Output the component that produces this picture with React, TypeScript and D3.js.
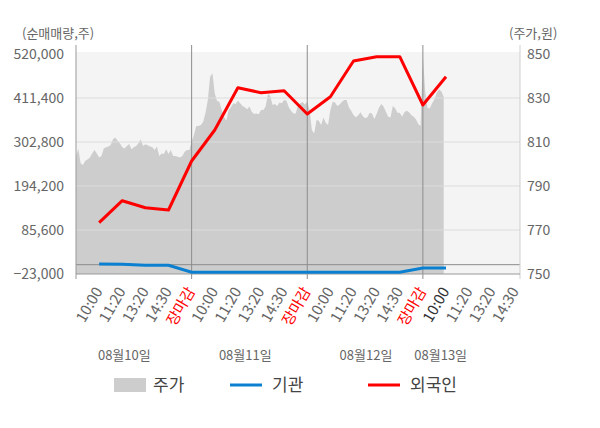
import React from "react";
import * as d3 from "d3";

const W = 600;
const H = 428;

// x tick labels per day (slot positions 1..19)
const dayTimeLabels = ["10:00", "11:20", "13:20", "14:30", "장마감"];
const dayLabels = ["08월10일", "08월11일", "08월12일", "08월13일"];
const dayLabelSlots = [2.09, 7.32, 12.54, 15.77];
const separatorSlots = [5, 10, 15];

const leftTicks = [-23000, 85600, 194200, 302800, 411400, 520000];
const rightTicks = [750, 770, 790, 810, 830, 850];

// 외국인 (foreign net buying, shares) at slots 1..16
const foreignValues = [
  103600, 157900, 140600, 135000, 255900, 332400, 436800, 424500, 429400,
  371900, 414600, 502700, 513300, 513300, 394100, 464000,
];
// 기관 (institution net buying, shares) at slots 1..16
const instValues = [
  1500, 1000, -1300, -1500, -18800, -18800, -18800, -18800, -18800, -18800,
  -18800, -18800, -18800, -18800, -8200, -8200,
];
// 주가 (price, won) sampled every 0.1 slot from slot 0
const priceValues = [
  803.3, 807.1, 800.3, 799.5, 801.5, 802.1, 803.0, 804.8, 806.4, 804.8,
  803.0, 803.6, 807.0, 807.6, 807.9, 808.6, 811.2, 812.1, 810.6, 809.4,
  807.6, 807.1, 808.2, 809.1, 806.7, 807.6, 808.2, 809.4, 811.2, 808.2,
  809.0, 808.5, 807.9, 807.6, 806.4, 807.9, 803.6, 804.8, 804.5, 806.7,
  804.5, 806.4, 803.6, 803.6, 803.3, 803.0, 803.6, 805.6, 806.4, 806.4,
  810.2, 813.2, 817.3, 817.3, 817.7, 819.2, 823.3, 829.1, 839.7, 841.2,
  832.1, 828.6, 828.3, 824.5, 821.5, 819.7, 824.5, 825.8, 827.6, 827.3,
  828.8, 827.6, 826.4, 825.8, 824.9, 826.1, 823.8, 822.7, 823.0, 822.6,
  824.5, 824.5, 826.1, 831.8, 830.9, 826.8, 827.3, 826.4, 828.0, 827.6,
  829.1, 828.8, 825.8, 824.2, 823.0, 823.0, 826.7, 827.6, 828.2, 827.1,
  828.3, 824.5, 815.5, 813.9, 820.0, 819.7, 817.7, 821.1, 818.8, 817.7,
  824.5, 828.3, 827.9, 826.4, 827.1, 828.3, 829.1, 829.1, 825.8, 824.2,
  822.3, 821.2, 822.0, 823.5, 821.8, 820.8, 821.2, 823.3, 823.0, 820.5,
  822.7, 825.6, 827.3, 826.1, 823.8, 821.5, 821.1, 826.4, 825.3, 823.3,
  823.3, 821.5, 823.5, 824.2, 823.5, 822.3, 821.5, 820.3, 818.2, 817.3,
  849.5, 832.9, 825.3, 825.3, 827.6, 829.4, 832.4, 833.9, 832.9, 830.6,
];

const FONT = "'Noto Sans CJK KR', 'Noto Sans', sans-serif";

export default function App() {
  const x0 = 76;
  const x1 = 520;
  const yTop = 54;
  const yBot = 274;
  const x = d3.scaleLinear().domain([0, 19.2]).range([x0, x1]);
  const yL = d3.scaleLinear().domain([-23000, 520000]).range([yBot, yTop]);
  const yR = d3.scaleLinear().domain([750, 850]).range([yBot, yTop]);

  const slots: { slot: number; label: string; color: string }[] = [];
  for (let d = 0; d < 4; d++) {
    dayTimeLabels.forEach((lab, k) => {
      if (d === 3 && k === 4) return;
      const color = k === 4 ? "#ff0000" : d === 3 && k === 0 ? "#333" : "#666";
      slots.push({ slot: d * 5 + k + 1, label: lab, color });
    });
  }

  const area = d3
    .area<number>()
    .x((_, i) => x(i / 10))
    .y0(yBot)
    .y1((v) => yR(v));

  const line = d3
    .line<number>()
    .x((_, i) => x(i + 1))
    .y((v) => yL(v));

  return (
    <svg width={W} height={H} style={{ position: "absolute", left: 0, top: 0 }}>
      <rect x={0} y={0} width={W} height={H} fill="#fff" />
      <rect x={x0} y={52} width={x1 - x0} height={yBot - 52} fill="#f4f4f4" />
      <path d={area(priceValues) || ""} fill="#cdcdcd" />
      {leftTicks.slice(1, -1).map((t) => (
        <line key={t} x1={x0} x2={x1} y1={yL(t)} y2={yL(t)} stroke="#dcdcdc" strokeWidth={1} />
      ))}
      <line x1={x0} x2={x1} y1={yL(0)} y2={yL(0)} stroke="#8c8c8c" strokeWidth={1} />
      {separatorSlots.map((s) => (
        <line key={s} x1={x(s)} x2={x(s)} y1={45} y2={279} stroke="#8c8c8c" strokeWidth={1} />
      ))}
      <line x1={x0} x2={x0} y1={45} y2={279} stroke="#999" strokeWidth={1} />
      <line x1={x1} x2={x1} y1={45} y2={279} stroke="#cfcfcf" strokeWidth={1} />
      <line x1={x0} x2={x1} y1={yBot} y2={yBot} stroke="#999" strokeWidth={1} />

      <path d={line(instValues) || ""} fill="none" stroke="#0b80d0" strokeWidth={3} />
      <path d={line(foreignValues) || ""} fill="none" stroke="#ff0000" strokeWidth={3} strokeLinejoin="round" />

      <g fontFamily={FONT} fontSize={14} fill="#666">
        {leftTicks.map((t) => (
          <text key={t} x={64} y={yL(t)} dy="0.35em" textAnchor="end">
            {d3.format(",")(t)}
          </text>
        ))}
        {rightTicks.map((t) => (
          <text key={t} x={527} y={yR(t)} dy="0.35em" textAnchor="start">
            {t}
          </text>
        ))}
      </g>
      <g fontFamily={FONT} fontSize={13} fill="#666">
        <text x={22} y={33} dy="0.35em">(순매매량,주)</text>
        <text x={509} y={33} dy="0.35em">(주가,원)</text>
        {dayLabels.map((d, i) => (
          <text key={d} x={x(dayLabelSlots[i])} y={355} dy="0.35em" textAnchor="middle">
            {d}
          </text>
        ))}
      </g>
      <g fontFamily={FONT} fontSize={15}>
        {slots.map((s) => (
          <text
            key={s.slot}
            transform={`translate(${x(s.slot) + 4},${291}) rotate(-60)`}
            textAnchor="end"
            fill={s.color}
          >
            {s.label}
          </text>
        ))}
      </g>

      <g fontFamily={FONT} fontSize={17} fill="#444">
        <rect x={114} y={378} width={32} height={14} fill="#cdcdcd" />
        <text x={153} y={385} dy="0.35em">주가</text>
        <line x1={230} x2={262} y1={385} y2={385} stroke="#0b80d0" strokeWidth={3} />
        <text x={272} y={385} dy="0.35em">기관</text>
        <line x1={368} x2={400} y1={385} y2={385} stroke="#ff0000" strokeWidth={3} />
        <text x={410} y={385} dy="0.35em">외국인</text>
      </g>
    </svg>
  );
}
